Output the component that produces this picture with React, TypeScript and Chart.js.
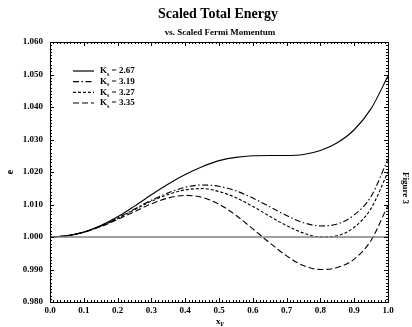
import React, { useEffect, useRef } from "react";
import { Chart, registerables } from "chart.js";

Chart.register(...registerables);

const xValues = [0.0, 0.05, 0.1, 0.15, 0.2, 0.25, 0.3, 0.35, 0.4, 0.45, 0.5, 0.55, 0.6, 0.65, 0.7, 0.75, 0.8, 0.85, 0.9, 0.95, 1.0];

const seriesK267 = [1.0, 1.0004, 1.0015, 1.0035, 1.0062, 1.0095, 1.013, 1.0163, 1.0192, 1.0216, 1.0235, 1.0245, 1.025, 1.0251, 1.0251, 1.0254, 1.0266, 1.029, 1.033, 1.0395, 1.0495];
const seriesK319 = [1.0, 1.0004, 1.0015, 1.0034, 1.0058, 1.0086, 1.0113, 1.0136, 1.0153, 1.016, 1.0156, 1.0142, 1.012, 1.0093, 1.0066, 1.0044, 1.0034, 1.004, 1.0068, 1.0125, 1.024];
const seriesK327 = [1.0, 1.0004, 1.0015, 1.0033, 1.0057, 1.0084, 1.011, 1.0131, 1.0145, 1.0149, 1.014, 1.0121, 1.0094, 1.0064, 1.0035, 1.0012, 1.0, 1.0004, 1.003, 1.0088, 1.02];
const seriesK335 = [1.0, 1.0004, 1.0015, 1.0032, 1.0054, 1.0078, 1.0102, 1.012, 1.0128, 1.0122, 1.0101, 1.0067, 1.0025, 0.9982, 0.9942, 0.9912, 0.99, 0.9906, 0.9932, 0.999, 1.0098];

const seriesLabels = ["2.67", "3.19", "3.27", "3.35"];
const referenceLine = [1.0, 1.0];
const referenceX = [0.0, 1.0];

const titleText = "Scaled Total Energy";
const subtitleText = "vs. Scaled Fermi Momentum";
const sideText = "Figure 3";

const FONT = '"Liberation Serif", "Times New Roman", serif';

const dashes: number[][] = [[], [6, 2.5, 1.5, 2.5], [3, 2], [6, 3]];

function toPoints(ys: number[]) {
  return ys.map((y, i) => ({ x: xValues[i], y }));
}

const decorPlugin = {
  id: "decor",
  afterDraw(chart: any) {
    const ctx = chart.ctx as CanvasRenderingContext2D;
    const { left, right, top, bottom } = chart.chartArea;
    const xs = chart.scales.x;
    const ys = chart.scales.y;
    ctx.save();
    ctx.strokeStyle = "#000";
    ctx.lineWidth = 1;
    ctx.strokeRect(Math.round(left) + 0.5, Math.round(top) + 0.5, Math.round(right - left), Math.round(bottom - top));
    ctx.beginPath();
    for (let i = 0; i <= 100; i++) {
      const v = i / 100;
      const px = Math.round(xs.getPixelForValue(v)) + 0.5;
      const len = i % 10 === 0 ? 4 : 2;
      ctx.moveTo(px, bottom);
      ctx.lineTo(px, bottom - len);
      ctx.moveTo(px, top);
      ctx.lineTo(px, top + len);
    }
    for (let i = 0; i <= 80; i++) {
      const v = 0.98 + i / 1000;
      const py = Math.round(ys.getPixelForValue(v)) + 0.5;
      const len = i % 10 === 0 ? 4 : 2;
      ctx.moveTo(left, py);
      ctx.lineTo(left + len, py);
      ctx.moveTo(right, py);
      ctx.lineTo(right - len, py);
    }
    ctx.stroke();

    ctx.fillStyle = "#000";
    ctx.textBaseline = "middle";
    ctx.textAlign = "center";
    ctx.font = `bold 14px ${FONT}`;
    ctx.fillText(titleText, 218, 14);
    ctx.font = `bold 9px ${FONT}`;
    ctx.fillText(subtitleText, 220, 33);

    const legX1 = 73;
    const legX2 = 94;
    const textX = 100;
    const rowY = [71, 81.7, 92.3, 103];
    for (let i = 0; i < 4; i++) {
      ctx.beginPath();
      ctx.setLineDash(dashes[i]);
      ctx.lineWidth = 1.2;
      ctx.moveTo(legX1, rowY[i]);
      ctx.lineTo(legX2, rowY[i]);
      ctx.stroke();
      ctx.setLineDash([]);
      ctx.textAlign = "left";
      ctx.font = `bold 9px ${FONT}`;
      ctx.fillText("K", textX, rowY[i]);
      const kw = ctx.measureText("K").width;
      ctx.font = `bold 6px ${FONT}`;
      ctx.fillText("s", textX + kw, rowY[i] + 3);
      const sw = ctx.measureText("s").width;
      ctx.font = `bold 9px ${FONT}`;
      ctx.fillText(" = " + seriesLabels[i], textX + kw + sw, rowY[i]);
    }

    ctx.textAlign = "left";
    ctx.font = `bold 9px ${FONT}`;
    ctx.fillText("x", 216, 322);
    const xw = ctx.measureText("x").width;
    ctx.font = `bold 6px ${FONT}`;
    ctx.fillText("F", 216 + xw, 324);

    ctx.save();
    ctx.translate(10, 172);
    ctx.rotate(-Math.PI / 2);
    ctx.textAlign = "center";
    ctx.font = `bold 10px ${FONT}`;
    ctx.fillText("e", 0, 0);
    ctx.restore();

    ctx.save();
    ctx.translate(405, 188);
    ctx.rotate(Math.PI / 2);
    ctx.textAlign = "center";
    ctx.font = `bold 9px ${FONT}`;
    ctx.fillText(sideText, 0, 0);
    ctx.restore();

    ctx.restore();
  },
};

export default function App() {
  const ref = useRef<HTMLCanvasElement | null>(null);
  useEffect(() => {
    if (!ref.current) return;
    const series = [seriesK267, seriesK319, seriesK327, seriesK335];
    const datasets: any[] = [
      {
        label: "ref",
        data: referenceX.map((x, i) => ({ x, y: referenceLine[i] })),
        borderColor: "#808080",
        borderWidth: 1.6,
        pointRadius: 0,
        fill: false,
      },
      ...series.map((s, i) => ({
        label: "K = " + seriesLabels[i],
        data: toPoints(s),
        borderColor: "#000",
        borderWidth: 1.1,
        borderDash: dashes[i],
        pointRadius: 0,
        fill: false,
        cubicInterpolationMode: "monotone",
      })),
    ];
    const chart = new Chart(ref.current, {
      type: "line",
      data: { datasets },
      options: {
        animation: false,
        responsive: false,
        maintainAspectRatio: false,
        layout: { padding: { top: 42, right: 24, left: 0, bottom: 0 } },
        plugins: { legend: { display: false }, tooltip: { enabled: false }, title: { display: false } },
        scales: {
          x: {
            type: "linear",
            min: 0,
            max: 1,
            grid: { display: false, drawTicks: false },
            border: { display: false },
            ticks: {
              stepSize: 0.1,
              padding: 3,
              maxRotation: 0,
              color: "#000",
              font: { family: FONT, weight: "bold", size: 9 },
              callback: (v: any) => Number(v).toFixed(1),
            },
            afterFit: (scale: any) => {
              scale.height = 25;
            },
          },
          y: {
            type: "linear",
            min: 0.98,
            max: 1.06,
            grid: { display: false, drawTicks: false },
            border: { display: false },
            ticks: {
              stepSize: 0.01,
              padding: 7,
              color: "#000",
              font: { family: FONT, weight: "bold", size: 9 },
              callback: (v: any) => Number(v).toFixed(3),
            },
            afterFit: (scale: any) => {
              scale.width = 50;
            },
          },
        },
      } as any,
      plugins: [decorPlugin],
    });
    return () => chart.destroy();
  }, []);
  return (
    <div style={{ position: "fixed", left: 0, top: 0, width: 412, height: 327, background: "#fff" }}>
      <canvas ref={ref} width={412} height={327} style={{ width: 412, height: 327 }} />
    </div>
  );
}
